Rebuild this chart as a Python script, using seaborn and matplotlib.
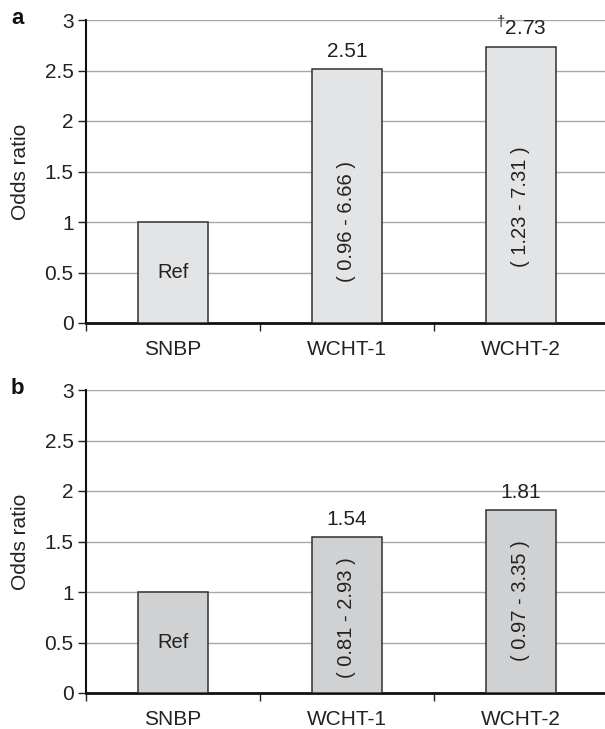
import pandas as pd
import matplotlib.pyplot as plt
import seaborn as sns

# data
groups = ['SNBP', 'WCHT-1', 'WCHT-2']
odds_a = [1.00, 2.51, 2.73]
odds_b = [1.00, 1.54, 1.81]
labels_a = ['', '2.51', '$^{\\dagger}$2.73']
labels_b = ['', '1.54', '1.81']
ci_a = ['Ref', '( 0.96 - 6.66 )', '( 1.23 - 7.31 )']
ci_b = ['Ref', '( 0.81 - 2.93 )', '( 0.97 - 3.35 )']
yticks = [0, 0.5, 1, 1.5, 2, 2.5, 3]
ytick_labels = ['0', '0.5', '1', '1.5', '2', '2.5', '3']

sns.set_theme(style='white')
plt.rcParams['font.family'] = ['Liberation Sans', 'DejaVu Sans']
plt.rcParams['mathtext.fontset'] = 'custom'
plt.rcParams['mathtext.rm'] = 'Liberation Sans'

fig = plt.figure(figsize=(6.05, 7.29), dpi=100)
W, H = 605, 729
fs = 15
txt = '#222222'


def panel(rect, odds, labels, ci, ci_y, color, letter):
    ax = fig.add_axes(rect)
    df = pd.DataFrame({'group': groups, 'odds': odds})
    sns.barplot(data=df, x='group', y='odds', color=color, width=0.4,
                edgecolor='#303030', linewidth=1.1, saturation=1, ax=ax, zorder=3)
    ax.set_xlim(-0.5, 2.5)
    ax.set_ylim(0, 3)
    ax.set_yticks(yticks)
    ax.set_yticklabels(ytick_labels, fontsize=fs, color=txt)
    ax.yaxis.grid(True, color='#a8a8a8', linewidth=1.0, zorder=0)
    ax.set_axisbelow(True)
    ax.set_xlabel('')
    ax.set_ylabel('Odds ratio', fontsize=fs, color=txt, labelpad=10)
    ax.tick_params(axis='x', which='major', length=0, labelsize=fs, pad=12,
                   labelcolor=txt)
    ax.set_xticks([-0.5, 0.5, 1.5], minor=True)
    ax.tick_params(axis='x', which='minor', length=6, width=1, color=txt,
                   direction='out', bottom=True)
    ax.tick_params(axis='y', length=6, width=1, color=txt, direction='out',
                   left=True, pad=3)
    for s in ['top', 'right']:
        ax.spines[s].set_visible(False)
    ax.spines['left'].set_color('#111111')
    ax.spines['left'].set_linewidth(1.5)
    ax.spines['bottom'].set_color('#111111')
    ax.spines['bottom'].set_linewidth(2.0)
    for i, (v, lab) in enumerate(zip(odds, labels)):
        if lab:
            ax.annotate(lab, (i, v), xytext=(0, 6), textcoords='offset points',
                        ha='center', va='bottom', fontsize=fs, color=txt)
    for i, (t, y) in enumerate(zip(ci, ci_y)):
        rot = 0 if i == 0 else 90
        ax.text(i, y, t, ha='center', va='center', rotation=rot,
                fontsize=fs - 0.5, color=txt)
    fig.text(11 / W, rect[1] + rect[3] + 2 / H, letter, fontsize=16, fontweight='bold',
             ha='left', va='center', color='#111111')
    return ax


axw = (608 - 86) / W
panel([86 / W, (H - 323) / H, axw, 303 / H], odds_a, labels_a, ci_a,
      [0.5, 1.0, 1.15], '#e3e4e6', 'a')
panel([86 / W, (H - 693) / H, axw, 303 / H], odds_b, labels_b, ci_b,
      [0.5, 0.75, 0.91], '#d0d1d3', 'b')

plt.savefig('out.png', dpi=100)
plt.close()
